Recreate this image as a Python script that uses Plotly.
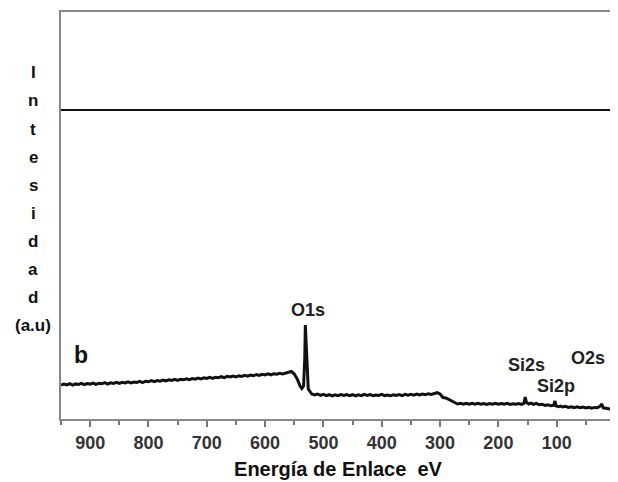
import plotly.graph_objects as go

# Binding energy (eV) and intensity (a.u.)
energy = [950, 945, 940, 935, 930, 925, 920, 915, 910, 905, 900, 895, 890, 885, 880,
          875, 870, 865, 860, 855, 850, 845, 840, 835, 830, 825, 820, 815, 810, 805,
          800, 795, 790, 785, 780, 775, 770, 765, 760, 755, 750, 745, 740, 735, 730,
          725, 720, 715, 710, 705, 700, 695, 690, 685, 680, 675, 670, 665, 660, 655,
          650, 645, 640, 635, 630, 625, 620, 615, 610, 605, 600, 595, 590, 585, 580,
          575, 570, 565, 560, 555, 550, 545, 540, 537, 534, 532, 531, 530, 528, 526,
          523, 520, 515, 510, 505, 500, 495, 490, 485, 480, 475, 470, 465, 460, 455,
          450, 445, 440, 435, 430, 425, 420, 415, 410, 405, 400, 395, 390, 385, 380,
          375, 370, 365, 360, 355, 350, 345, 340, 335, 330, 325, 320, 315, 310, 305,
          300, 295, 290, 285, 280, 275, 270, 265, 260, 255, 250, 245, 240, 235, 230,
          225, 220, 215, 210, 205, 200, 195, 190, 185, 180, 175, 170, 165, 160, 156,
          154, 152, 148, 144, 140, 135, 130, 125, 120, 115, 110, 105, 103, 101, 97,
          93, 90, 85, 80, 75, 70, 65, 60, 55, 50, 45, 40, 35, 30, 25,
          23, 20, 15, 10, 5, 0]
intensity = [34.0, 35.0, 34.2, 35.3, 33.8, 35.1, 34.6, 35.6, 34.3, 35.4, 34.9, 35.9, 34.7, 35.8, 35.2,
             36.3, 35.0, 36.2, 35.6, 36.6, 35.5, 36.7, 36.0, 37.1, 36.0, 37.0, 36.5, 37.6, 36.4, 37.8,
             37.2, 38.3, 37.3, 38.5, 37.9, 39.0, 38.0, 39.2, 38.5, 39.6, 38.6, 39.8, 39.2, 40.2, 39.3,
             40.5, 39.9, 40.9, 40.0, 41.2, 40.5, 41.6, 40.6, 41.8, 41.3, 42.3, 41.4, 42.6, 42.0, 43.0,
             42.1, 43.3, 42.6, 43.7, 42.8, 44.0, 43.3, 44.4, 43.5, 44.6, 44.0, 45.1, 44.2, 45.3, 44.7,
             45.6, 45.0, 46.0, 46.5, 47.5, 45.0, 40.0, 33.0, 30.5, 33.0, 60.0, 94.0, 80.0, 45.0, 30.0,
             27.5, 25.0, 24.0, 25.0, 23.6, 24.6, 23.4, 24.3, 23.2, 24.2, 23.3, 24.4, 23.5, 24.5, 23.4,
             24.3, 23.2, 24.1, 23.4, 24.6, 23.5, 24.4, 23.3, 24.0, 23.6, 24.7, 23.4, 23.9, 23.2, 24.3,
             23.6, 24.5, 23.4, 24.6, 23.8, 24.7, 23.9, 25.0, 24.1, 25.0, 24.3, 25.3, 24.5, 25.4, 26.3,
             25.0, 21.5, 21.0, 19.5, 18.0, 16.2, 15.0, 15.8, 14.8, 15.6, 14.9, 15.7, 14.8, 15.6, 14.9,
             15.5, 14.6, 15.4, 14.8, 15.6, 14.7, 15.4, 14.9, 15.7, 14.6, 15.3, 14.8, 15.5, 14.6, 15.8,
             22.0, 16.8, 15.0, 15.8, 14.6, 15.6, 14.2, 14.8, 13.6, 14.3, 13.2, 13.8, 18.0, 13.2, 12.4,
             12.9, 12.0, 12.6, 11.6, 12.3, 11.4, 12.1, 11.2, 11.9, 11.1, 11.7, 10.9, 11.6, 11.2, 13.0,
             15.0, 11.2, 10.6, 10.2, 9.6, 9.0]

x_ticks = [900, 800, 700, 600, 500, 400, 300, 200, 100, 0]
x_range = [950, 0]
y_range = [0, 407]
reference_level = 309

peak_labels = ["O1s", "Si2s", "Si2p", "O2s"]
peak_label_x = [527, 151, 101, 46]
peak_label_y = [109, 54, 33, 61]

y_title_letters = ["I", "n", "t", "e", "s", "i", "d", "a", "d", "(a.u)"]

FONT = "Liberation Sans, Arial, sans-serif"

fig = go.Figure()
fig.add_trace(go.Scatter(x=energy, y=intensity, mode="lines",
                         line=dict(color="#111111", width=3), showlegend=False))

fig.add_shape(type="line", xref="paper", yref="y", x0=0, x1=1.01,
              y0=reference_level, y1=reference_level,
              line=dict(color="#111111", width=2))

for t, xv, yv in zip(peak_labels, peak_label_x, peak_label_y):
    fig.add_annotation(x=xv, y=yv, text=t, showarrow=False,
                       font=dict(family=FONT, size=18, color="#222222", weight="bold"))

fig.add_annotation(x=916, y=64, text="b", showarrow=False,
                   font=dict(family=FONT, size=23, color="#111111", weight="bold"))

plot_h = 407
for i, letter in enumerate(y_title_letters):
    py = 73 + i * 28.0
    fig.add_annotation(xref="paper", yref="paper", x=-28 / 554, y=(419 - py) / plot_h,
                       text=letter, showarrow=False, xanchor="center", yanchor="middle",
                       font=dict(family=FONT, size=17, color="#111111", weight="bold"))

fig.update_xaxes(range=x_range, tickvals=x_ticks, ticks="outside", ticklen=6,
                 tickwidth=2, tickcolor="#777777", automargin=False,
                 ticklabeloverflow="allow",
                 showline=True, linecolor="#888888", linewidth=2, mirror=True,
                 showgrid=False, zeroline=False,
                 minor=dict(dtick=50, ticks="outside", ticklen=4, tickwidth=2,
                            tickcolor="#777777", tick0=0),
                 tickfont=dict(family=FONT, size=18, color="#333333", weight="bold"),
                 title=dict(text="Energía de Enlace  eV", standoff=10,
                            font=dict(family=FONT, size=20, color="#111111", weight="bold")))
fig.update_yaxes(range=y_range, showticklabels=False, ticks="", automargin=False,
                 showline=True, linecolor="#888888", linewidth=2, mirror=True,
                 showgrid=False, zeroline=False)

# page body has an 8 px default margin, so the figure is sized to fit inside it
fig.update_layout(width=610, height=474, margin=dict(l=53, r=3, t=4, b=63),
                  plot_bgcolor="white", paper_bgcolor="white")

fig.write_html("out.html")
